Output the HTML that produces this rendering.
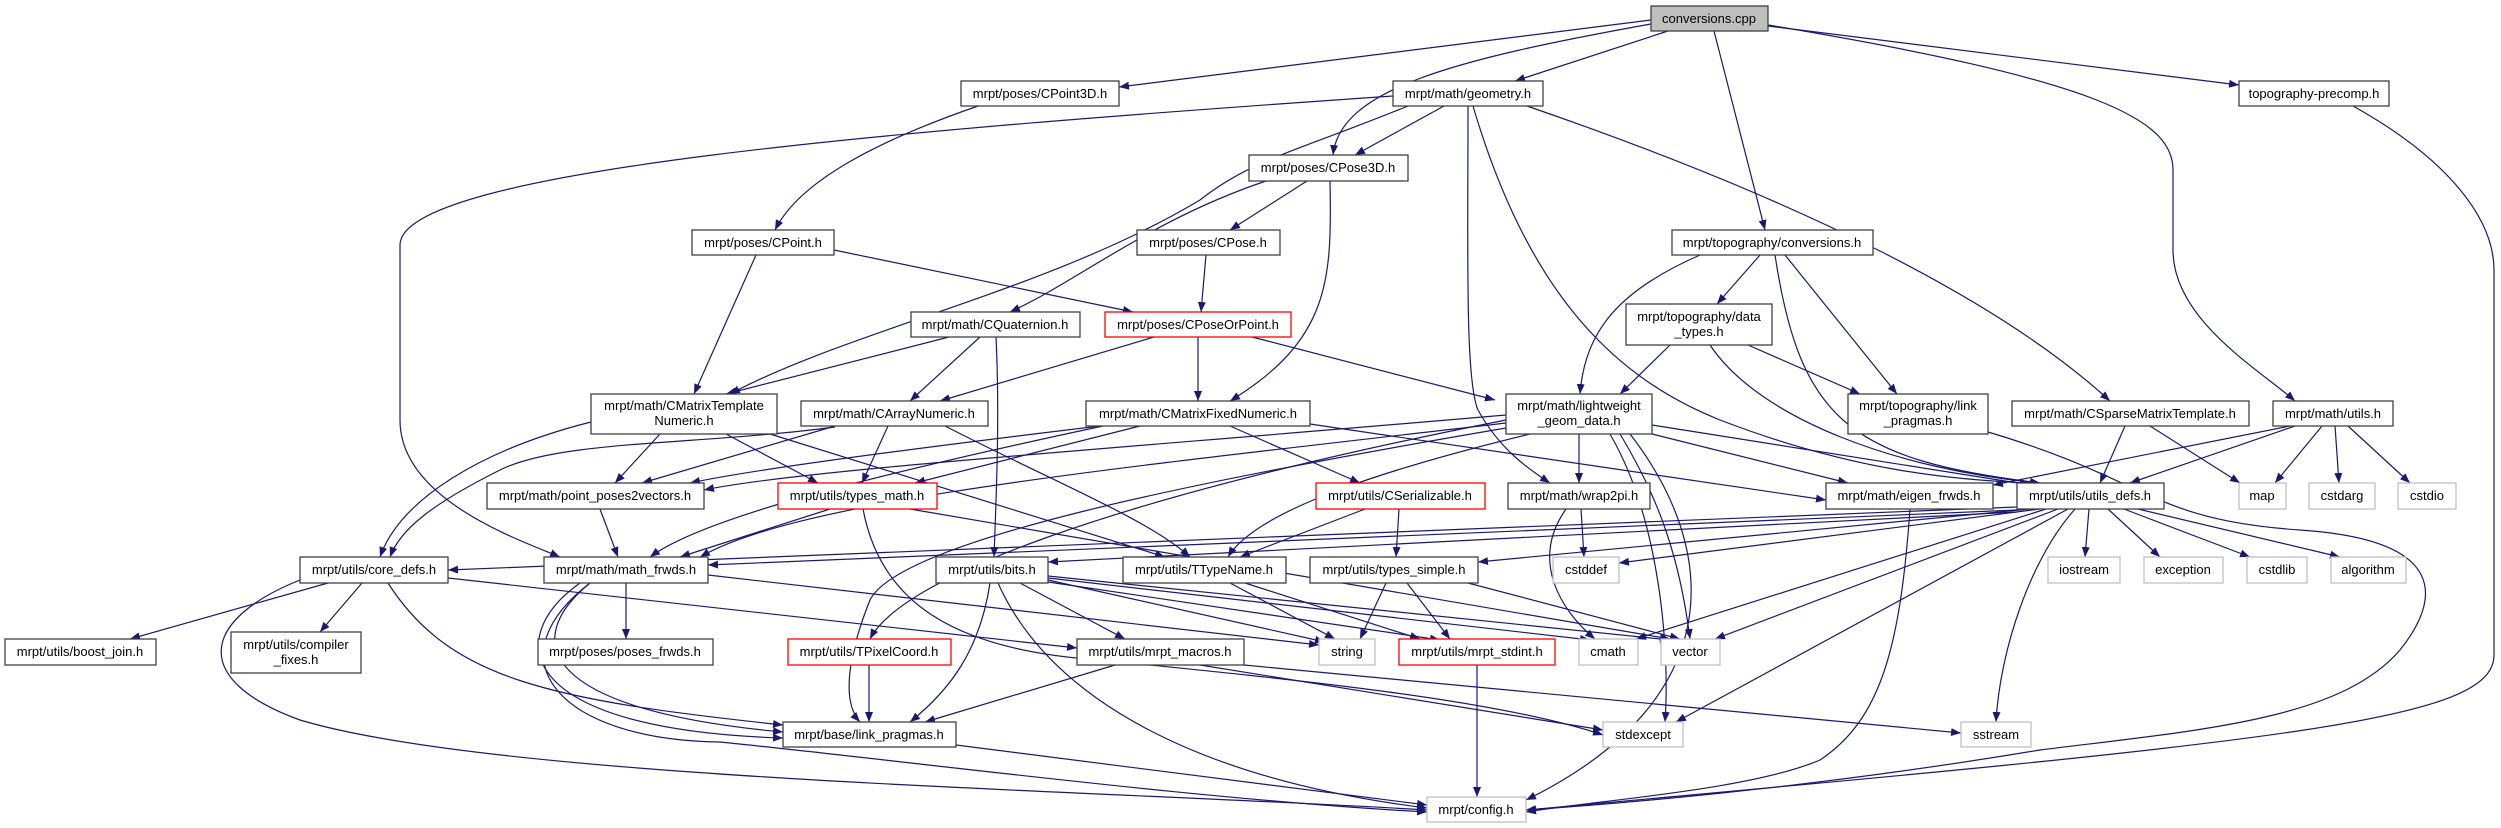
<!DOCTYPE html>
<html><head><meta charset="utf-8"><style>
html,body{margin:0;padding:0;background:#fff;}
svg{display:block;}
text{font-family:"Liberation Sans",sans-serif;font-size:13px;fill:#000;}
.e{fill:none;stroke:#191970;stroke-width:1.2;marker-end:url(#a);}
.n{fill:#fff;stroke:#404040;stroke-width:1.3;}
.g{fill:#fff;stroke:#bfbfbf;stroke-width:1.3;}
.r{fill:#fff;stroke:#ff0000;stroke-width:1.3;}
</style></head><body>
<svg width="2501" height="828" viewBox="0 0 2501 828" xmlns="http://www.w3.org/2000/svg">
<defs><marker id="a" markerUnits="userSpaceOnUse" markerWidth="11" markerHeight="8" refX="10" refY="4" orient="auto"><path d="M0,0 L10,4 L0,8 z" fill="#191970"/></marker></defs>
<g>
<path class="e" d="M1651,20 L1119,87"/>
<path class="e" d="M1668,31 L1515,81"/>
<path class="e" d="M1714,31 L1765,230"/>
<path class="e" d="M1768,26 L2239,85"/>
<path class="e" d="M1651,24 C1450,60 1340,90 1333,155"/>
<path class="e" d="M1768,25 C2100,80 2173,120 2173,170 L2173,250 C2173,320 2260,370 2295,401"/>
<path class="e" d="M978,106 C880,140 800,180 775,230"/>
<path class="e" d="M1444,106 L1355,155"/>
<path class="e" d="M1408,106 C1300,150 1250,160 1200,200 C1050,290 850,330 730,394"/>
<path class="e" d="M1393,96 C900,130 400,170 400,245 L400,420 C400,500 520,540 560,557"/>
<path class="e" d="M1468,106 C1468,250 1465,380 1478,410 C1500,450 1530,470 1550,483"/>
<path class="e" d="M1473,106 C1530,300 1620,380 1720,420 C1850,470 1950,480 2030,483"/>
<path class="e" d="M1527,106 C1800,200 2000,300 2110,401"/>
<path class="e" d="M2353,106 C2450,160 2494,220 2494,270 L2494,655 C2494,720 2300,740 1526,810"/>
<path class="e" d="M1307,181 L1230,230"/>
<path class="e" d="M1266,181 C1150,220 1080,280 1010,312"/>
<path class="e" d="M1330,181 C1332,280 1330,340 1230,401"/>
<path class="e" d="M1206,255 L1201,312"/>
<path class="e" d="M756,255 L694,394"/>
<path class="e" d="M834,250 L1133,312"/>
<path class="e" d="M949,337 L726,394"/>
<path class="e" d="M980,337 L910,401"/>
<path class="e" d="M996,337 C1000,420 996,500 994,557"/>
<path class="e" d="M1154,337 L940,401"/>
<path class="e" d="M1198,337 L1198,401"/>
<path class="e" d="M1252,337 L1495,400"/>
<path class="e" d="M1700,255 C1620,290 1585,330 1580,394"/>
<path class="e" d="M1760,255 L1717,304"/>
<path class="e" d="M1785,255 L1897,394"/>
<path class="e" d="M1775,255 C1800,420 1850,460 2040,483"/>
<path class="e" d="M1670,345 L1620,394"/>
<path class="e" d="M1748,345 L1860,394"/>
<path class="e" d="M1710,345 C1760,420 1900,470 2040,483"/>
<path class="e" d="M1988,432 C2150,480 2150,520 2300,530 C2450,540 2440,600 2400,650 C2340,720 2200,730 2040,750 C1800,790 1600,805 1526,810"/>
<path class="e" d="M591,422 C480,450 400,500 380,557"/>
<path class="e" d="M660,434 L615,483"/>
<path class="e" d="M726,434 L818,483"/>
<path class="e" d="M770,434 L1165,557"/>
<path class="e" d="M835,426 L642,483"/>
<path class="e" d="M888,426 L862,483"/>
<path class="e" d="M945,426 C1050,480 1150,520 1190,557"/>
<path class="e" d="M835,427 C700,445 560,440 500,470 C430,505 400,530 390,557"/>
<path class="e" d="M1100,426 C900,450 750,470 690,483"/>
<path class="e" d="M1140,426 L915,483"/>
<path class="e" d="M1230,426 L1360,483"/>
<path class="e" d="M1310,424 L1826,500"/>
<path class="e" d="M1103,426 C850,480 700,520 650,557"/>
<path class="e" d="M1579,434 L1579,483"/>
<path class="e" d="M1530,434 C1340,480 1250,520 1228,557"/>
<path class="e" d="M1506,420 C1100,500 900,580 870,639"/>
<path class="e" d="M1652,434 L1848,483"/>
<path class="e" d="M1652,425 L2030,485"/>
<path class="e" d="M1620,434 C1660,500 1680,560 1690,639"/>
<path class="e" d="M1610,434 C1660,520 1670,650 1665,722"/>
<path class="e" d="M1630,434 C1720,550 1730,700 1526,800"/>
<path class="e" d="M1506,423 C1100,470 800,500 700,557"/>
<path class="e" d="M1506,428 C1200,480 900,540 870,600 C850,650 840,700 860,722"/>
<path class="e" d="M1506,415 C1100,450 800,470 704,490"/>
<path class="e" d="M2125,426 L2100,483"/>
<path class="e" d="M2150,426 L2240,483"/>
<path class="e" d="M2295,426 L2130,483"/>
<path class="e" d="M2290,426 L1993,485"/>
<path class="e" d="M2322,426 L2275,483"/>
<path class="e" d="M2335,426 L2339,483"/>
<path class="e" d="M2348,426 L2410,483"/>
<path class="e" d="M1910,509 C1900,650 1880,720 1820,760 C1750,790 1600,800 1526,812"/>
<path class="e" d="M2017,507 L448,570"/>
<path class="e" d="M2017,510 L708,565"/>
<path class="e" d="M2017,512 L1048,562"/>
<path class="e" d="M2030,509 L1478,562"/>
<path class="e" d="M2040,509 L1619,563"/>
<path class="e" d="M2089,509 L2085,557"/>
<path class="e" d="M2108,509 L2160,557"/>
<path class="e" d="M2124,509 L2250,557"/>
<path class="e" d="M2138,509 L2340,557"/>
<path class="e" d="M2058,509 L1715,639"/>
<path class="e" d="M2046,509 L1636,639"/>
<path class="e" d="M2068,509 L1676,722"/>
<path class="e" d="M2075,509 C2030,560 2000,650 1996,722"/>
<path class="e" d="M830,509 L680,557"/>
<path class="e" d="M863,509 C880,600 950,650 1100,660 C1300,680 1500,700 1603,735"/>
<path class="e" d="M910,509 L1670,639"/>
<path class="e" d="M600,509 L618,557"/>
<path class="e" d="M1365,509 L1240,557"/>
<path class="e" d="M1399,509 L1396,557"/>
<path class="e" d="M1581,509 L1584,557"/>
<path class="e" d="M1566,509 C1530,560 1560,610 1595,639"/>
<path class="e" d="M1048,580 L1325,642"/>
<path class="e" d="M1048,582 L1440,640"/>
<path class="e" d="M1020,583 L1125,639"/>
<path class="e" d="M990,583 C980,650 950,690 910,722"/>
<path class="e" d="M998,583 C1050,700 1200,780 1427,808"/>
<path class="e" d="M1048,578 L1590,640"/>
<path class="e" d="M1048,576 L1670,640"/>
<path class="e" d="M1230,583 L1335,639"/>
<path class="e" d="M1245,583 L1420,639"/>
<path class="e" d="M1386,583 L1360,639"/>
<path class="e" d="M1407,583 L1450,639"/>
<path class="e" d="M1468,583 L1680,639"/>
<path class="e" d="M328,583 L130,639"/>
<path class="e" d="M362,583 L320,632"/>
<path class="e" d="M388,583 C450,680 550,700 783,725"/>
<path class="e" d="M300,580 C200,620 190,680 300,720 C500,780 1100,790 1427,810"/>
<path class="e" d="M448,578 L1077,648"/>
<path class="e" d="M626,583 L626,639"/>
<path class="e" d="M590,583 C520,640 540,710 783,732"/>
<path class="e" d="M580,583 C500,640 520,730 783,738"/>
<path class="e" d="M590,583 C490,660 560,740 720,742 C900,760 1200,800 1427,812"/>
<path class="e" d="M708,575 L1319,645"/>
<path class="e" d="M869,665 L869,722"/>
<path class="e" d="M1115,665 L925,722"/>
<path class="e" d="M1200,665 L1603,730"/>
<path class="e" d="M1244,665 L1961,733"/>
<path class="e" d="M1477,665 L1477,797"/>
<path class="e" d="M956,745 L1427,805"/>
</g>
<g>
<rect x="1651" y="6" width="117" height="25" fill="#bfbfbf" stroke="#404040" stroke-width="1.3"/><text x="1709" y="23" text-anchor="middle">conversions.cpp</text>
<rect class="n" x="961" y="81" width="158" height="25"/><text x="1040" y="98" text-anchor="middle">mrpt/poses/CPoint3D.h</text>
<rect class="n" x="1393" y="81" width="150" height="25"/><text x="1468" y="98" text-anchor="middle">mrpt/math/geometry.h</text>
<rect class="n" x="2239" y="81" width="150" height="25"/><text x="2314" y="98" text-anchor="middle">topography-precomp.h</text>
<rect class="n" x="1249" y="155" width="159" height="26"/><text x="1328" y="172" text-anchor="middle">mrpt/poses/CPose3D.h</text>
<rect class="n" x="692" y="230" width="142" height="25"/><text x="763" y="247" text-anchor="middle">mrpt/poses/CPoint.h</text>
<rect class="n" x="1137" y="230" width="143" height="25"/><text x="1208" y="247" text-anchor="middle">mrpt/poses/CPose.h</text>
<rect class="n" x="1672" y="230" width="201" height="25"/><text x="1772" y="247" text-anchor="middle">mrpt/topography/conversions.h</text>
<rect class="n" x="911" y="312" width="169" height="25"/><text x="995" y="329" text-anchor="middle">mrpt/math/CQuaternion.h</text>
<rect class="r" x="1105" y="312" width="186" height="25"/><text x="1198" y="329" text-anchor="middle">mrpt/poses/CPoseOrPoint.h</text>
<rect class="n" x="1626" y="304" width="146" height="41"/><text x="1699" y="321" text-anchor="middle">mrpt/topography/data</text><text x="1699" y="336" text-anchor="middle">_types.h</text>
<rect class="n" x="591" y="394" width="186" height="40"/><text x="684" y="410" text-anchor="middle">mrpt/math/CMatrixTemplate</text><text x="684" y="425" text-anchor="middle">Numeric.h</text>
<rect class="n" x="801" y="401" width="187" height="25"/><text x="894" y="418" text-anchor="middle">mrpt/math/CArrayNumeric.h</text>
<rect class="n" x="1086" y="401" width="224" height="25"/><text x="1198" y="418" text-anchor="middle">mrpt/math/CMatrixFixedNumeric.h</text>
<rect class="n" x="1506" y="394" width="146" height="40"/><text x="1579" y="410" text-anchor="middle">mrpt/math/lightweight</text><text x="1579" y="425" text-anchor="middle">_geom_data.h</text>
<rect class="n" x="1848" y="394" width="140" height="40"/><text x="1918" y="410" text-anchor="middle">mrpt/topography/link</text><text x="1918" y="425" text-anchor="middle">_pragmas.h</text>
<rect class="n" x="2012" y="401" width="237" height="25"/><text x="2130" y="418" text-anchor="middle">mrpt/math/CSparseMatrixTemplate.h</text>
<rect class="n" x="2273" y="401" width="120" height="25"/><text x="2333" y="418" text-anchor="middle">mrpt/math/utils.h</text>
<rect class="n" x="487" y="483" width="217" height="26"/><text x="595" y="500" text-anchor="middle">mrpt/math/point_poses2vectors.h</text>
<rect class="r" x="778" y="483" width="159" height="26"/><text x="857" y="500" text-anchor="middle">mrpt/utils/types_math.h</text>
<rect class="r" x="1316" y="483" width="169" height="26"/><text x="1400" y="500" text-anchor="middle">mrpt/utils/CSerializable.h</text>
<rect class="n" x="1508" y="483" width="142" height="26"/><text x="1579" y="500" text-anchor="middle">mrpt/math/wrap2pi.h</text>
<rect class="n" x="1826" y="483" width="167" height="26"/><text x="1909" y="500" text-anchor="middle">mrpt/math/eigen_frwds.h</text>
<rect class="n" x="2017" y="483" width="147" height="26"/><text x="2090" y="500" text-anchor="middle">mrpt/utils/utils_defs.h</text>
<rect class="g" x="2239" y="483" width="47" height="26"/><text x="2262" y="500" text-anchor="middle">map</text>
<rect class="g" x="2309" y="483" width="66" height="26"/><text x="2342" y="500" text-anchor="middle">cstdarg</text>
<rect class="g" x="2398" y="483" width="58" height="26"/><text x="2427" y="500" text-anchor="middle">cstdio</text>
<rect class="n" x="300" y="557" width="148" height="26"/><text x="374" y="574" text-anchor="middle">mrpt/utils/core_defs.h</text>
<rect class="n" x="544" y="557" width="164" height="26"/><text x="626" y="574" text-anchor="middle">mrpt/math/math_frwds.h</text>
<rect class="n" x="936" y="557" width="112" height="26"/><text x="992" y="574" text-anchor="middle">mrpt/utils/bits.h</text>
<rect class="n" x="1123" y="557" width="163" height="26"/><text x="1204" y="574" text-anchor="middle">mrpt/utils/TTypeName.h</text>
<rect class="n" x="1310" y="557" width="168" height="26"/><text x="1394" y="574" text-anchor="middle">mrpt/utils/types_simple.h</text>
<rect class="g" x="1553" y="557" width="66" height="26"/><text x="1586" y="574" text-anchor="middle">cstddef</text>
<rect class="g" x="2048" y="557" width="72" height="26"/><text x="2084" y="574" text-anchor="middle">iostream</text>
<rect class="g" x="2144" y="557" width="79" height="26"/><text x="2183" y="574" text-anchor="middle">exception</text>
<rect class="g" x="2247" y="557" width="60" height="26"/><text x="2277" y="574" text-anchor="middle">cstdlib</text>
<rect class="g" x="2331" y="557" width="75" height="26"/><text x="2368" y="574" text-anchor="middle">algorithm</text>
<rect class="n" x="5" y="639" width="151" height="26"/><text x="80" y="656" text-anchor="middle">mrpt/utils/boost_join.h</text>
<rect class="n" x="231" y="632" width="130" height="41"/><text x="296" y="649" text-anchor="middle">mrpt/utils/compiler</text><text x="296" y="664" text-anchor="middle">_fixes.h</text>
<rect class="n" x="538" y="639" width="175" height="26"/><text x="625" y="656" text-anchor="middle">mrpt/poses/poses_frwds.h</text>
<rect class="r" x="788" y="639" width="163" height="26"/><text x="869" y="656" text-anchor="middle">mrpt/utils/TPixelCoord.h</text>
<rect class="n" x="1077" y="639" width="167" height="26"/><text x="1160" y="656" text-anchor="middle">mrpt/utils/mrpt_macros.h</text>
<rect class="g" x="1319" y="639" width="56" height="26"/><text x="1347" y="656" text-anchor="middle">string</text>
<rect class="r" x="1399" y="639" width="156" height="26"/><text x="1477" y="656" text-anchor="middle">mrpt/utils/mrpt_stdint.h</text>
<rect class="g" x="1579" y="639" width="59" height="26"/><text x="1608" y="656" text-anchor="middle">cmath</text>
<rect class="g" x="1661" y="639" width="59" height="26"/><text x="1690" y="656" text-anchor="middle">vector</text>
<rect class="n" x="783" y="722" width="173" height="25"/><text x="869" y="739" text-anchor="middle">mrpt/base/link_pragmas.h</text>
<rect class="g" x="1603" y="722" width="80" height="25"/><text x="1643" y="739" text-anchor="middle">stdexcept</text>
<rect class="g" x="1961" y="722" width="70" height="25"/><text x="1996" y="739" text-anchor="middle">sstream</text>
<rect class="g" x="1427" y="797" width="99" height="25"/><text x="1476" y="814" text-anchor="middle">mrpt/config.h</text>
</g>
</svg>
</body></html>
